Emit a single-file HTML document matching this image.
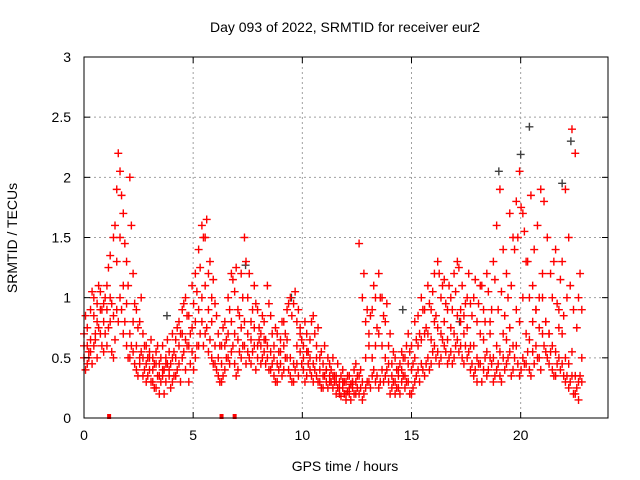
<!DOCTYPE html>
<html><head><meta charset="utf-8"><style>
html,body{margin:0;padding:0;background:#fff;}
svg{display:block;font-family:"Liberation Sans",sans-serif;}
</style></head><body>
<svg id="chart" width="640" height="480" viewBox="0 0 640 480"></svg>
<script>
const xTicks=[0,5,10,15,20];
const yTicks=[0,0.5,1,1.5,2,2.5,3];
const yTickLabels=["0","0.5","1","1.5","2","2.5","3"];
const times=[0,0.15,0.3,0.45,0.6,0.75,0.9,1.05,1.2,1.35,1.5,1.65,1.8,1.95,2.1,2.25,2.4,2.55,2.7,2.85,3.0,3.15,3.3,3.45,3.6,3.75,3.9,4.05,4.2,4.35,4.5,4.65,4.8,4.95,5.1,5.25,5.4,5.55,5.7,5.85,6.0,6.15,6.3,6.45,6.6,6.75,6.9,7.05,7.2,7.35,7.5,7.65,7.8,7.95,8.1,8.25,8.4,8.55,8.7,8.85,9.0,9.15,9.3,9.45,9.6,9.75,9.9,10.05,10.2,10.35,10.5,10.65,10.8,10.95,11.1,11.25,11.4,11.55,11.7,11.85,12.0,12.15,12.3,12.45,12.6,12.75,12.9,13.05,13.2,13.35,13.5,13.65,13.8,13.95,14.1,14.25,14.4,14.55,14.7,14.85,15.0,15.15,15.3,15.45,15.6,15.75,15.9,16.05,16.2,16.35,16.5,16.65,16.8,16.95,17.1,17.25,17.4,17.55,17.7,17.85,18.0,18.15,18.3,18.45,18.6,18.75,18.9,19.05,19.2,19.35,19.5,19.65,19.8,19.95,20.1,20.25,20.4,20.55,20.7,20.85,21.0,21.15,21.3,21.45,21.6,21.75,21.9,22.05,22.2,22.35,22.5,22.65,22.8];
const times2=[0.07,0.22,0.37,0.52,0.67,0.82,0.97,1.12,1.27,1.42,1.57,1.72,1.87,2.02,2.17,2.32,2.47,2.62,2.77,2.92,3.07,3.22,3.37,3.52,3.67,3.82,3.97,4.12,4.27,4.42,4.57,4.72,4.87,5.02,5.17,5.32,5.47,5.62,5.77,5.92,6.07,6.22,6.37,6.52,6.67,6.82,6.97,7.12,7.27,7.42,7.57,7.72,7.87,8.02,8.17,8.32,8.47,8.62,8.77,8.92,9.07,9.22,9.37,9.52,9.67,9.82,9.97,10.12,10.27,10.42,10.57,10.72,10.87,11.02,11.17,11.32,11.47,11.62,11.77,11.92,12.07,12.22,12.37,12.52,12.67,12.82,12.97,13.12,13.27,13.42,13.57,13.72,13.87,14.02,14.17,14.32,14.47,14.62,14.77,14.92,15.07,15.22,15.37,15.52,15.67,15.82,15.97,16.12,16.27,16.42,16.57,16.72,16.87,17.02,17.17,17.32,17.47,17.62,17.77,17.92,18.07,18.22,18.37,18.52,18.67,18.82,18.97,19.12,19.27,19.42,19.57,19.72,19.87,20.02,20.17,20.32,20.47,20.62,20.77,20.92,21.07,21.22,21.37,21.52,21.67,21.82,21.97,22.12,22.27,22.42,22.57,22.72];
const tecHigh=[0.7,0.6,0.9,1.0,0.8,1.05,0.95, 1.1,1.35,1.5,1.9,2.05,1.7,1.3, 2.0,1.2,0.9,0.8,0.7,0.6,0.55, 0.5,0.55,0.45,0.6,0.5,0.55,0.7, 0.65,0.8,0.9,1.0,0.85,1.1,1.2, 1.4,1.6,1.5,1.2,1.0,0.95,0.7, 0.6,0.8,1.0,1.2,1.05,0.9,1.2, 1.5,1.0,0.8,1.1,0.9,0.7,0.8, 1.1,0.85,0.6,0.7,0.65,0.8,0.9, 1.0,0.95,0.8,0.75,0.6,0.7,0.65, 0.85,0.6,0.5,0.45,0.4,0.45,0.5, 0.35,0.3,0.4,0.3,0.35,0.3,0.45, 1.45,1.0,0.8,0.7,0.9,1.0,1.2, 1.0,0.8,0.6,0.45,0.5,0.4,0.55, 0.5,0.7,0.6,0.8,0.85,1.0,0.9, 1.1,0.9,1.2,1.3,1.0,1.15,0.9, 1.0,1.2,1.3,0.9,0.85,1.0,0.95, 1.0,0.8,1.1,0.9,1.2,0.8,1.3, 1.6,1.9,1.4,1.2,1.7,1.5,1.8, 2.05,1.7,1.3,1.0,1.1,0.9,1.0, 1.2,0.8,0.7,1.0,1.4,0.9,1.3, 1.9,1.5,2.4,2.2,1.0,0.9];
const tecLow=[0.5,0.45,0.55,0.6,0.5,0.7,0.55, 0.6,0.8,0.5,0.9,1.0,0.7,0.6, 0.5,0.55,0.4,0.45,0.35,0.3,0.4, 0.3,0.25,0.2,0.35,0.3,0.4,0.3, 0.35,0.45,0.5,0.4,0.3,0.55,0.5, 0.6,0.8,0.7,0.55,0.5,0.45,0.35, 0.3,0.4,0.5,0.55,0.45,0.4,0.5, 0.6,0.55,0.45,0.6,0.5,0.45,0.55, 0.5,0.4,0.35,0.3,0.45,0.4,0.5, 0.35,0.3,0.45,0.55,0.4,0.35,0.4, 0.3,0.35,0.3,0.25,0.3,0.35,0.25, 0.2,0.2,0.25,0.15,0.2,0.25,0.2, 0.2,0.15,0.25,0.3,0.35,0.3,0.25, 0.4,0.35,0.3,0.25,0.2,0.25,0.3, 0.25,0.3,0.2,0.3,0.4,0.45,0.35, 0.5,0.45,0.6,0.55,0.5,0.6,0.45, 0.55,0.5,0.65,0.6,0.45,0.5,0.4, 0.35,0.3,0.45,0.4,0.35,0.5,0.3, 0.4,0.35,0.5,0.45,0.55,0.4,0.6, 0.35,0.5,0.45,0.4,0.55,0.6,0.5, 0.7,0.55,0.45,0.4,0.35,0.5,0.45, 0.3,0.25,0.35,0.2,0.15,0.3,0.4, 0.35,0.3,0.45,0.4,0.3,0.35];
const tecMid=[0.6,0.75,0.65,0.85,0.95,0.9,0.8, 0.9,1.0,0.85,1.3,1.5,1.1,0.95, 0.7,0.8,0.6,0.5,0.5,0.45,0.5, 0.4,0.45,0.35,0.4,0.45,0.35,0.5, 0.5,0.6,0.7,0.65,0.6,0.75,0.8, 0.9,1.0,1.1,0.9,0.8,0.6,0.5, 0.45,0.6,0.7,0.8,0.7,0.65,0.75, 0.8,0.7,0.65,0.75,0.6,0.6,0.65, 0.6,0.55,0.5,0.45,0.55,0.6,0.65, 0.5,0.45,0.6,0.7,0.5,0.55,0.5, 0.45,0.5,0.4,0.35,0.4,0.3,0.35, 0.3,0.25,0.3,0.2,0.25,0.3,0.3, 0.35,0.3,0.5,0.6,0.5,0.6,0.7, 0.6,0.5,0.45,0.35,0.3,0.35,0.4, 0.35,0.45,0.4,0.5,0.6,0.65,0.7, 0.7,0.65,0.8,0.75,0.7,0.8,0.65, 0.75,0.7,0.85,0.8,0.7,0.75,0.6, 0.6,0.5,0.7,0.65,0.55,0.7,0.5, 0.6,0.55,0.7,0.65,0.75,0.6,0.9, 0.8,1.0,0.7,0.65,0.8,0.9,0.75, 1.0,0.8,0.7,0.6,0.55,0.75,0.7, 0.5,0.45,0.55,0.35,0.3,0.5,0.6, 0.6,0.5,0.9,0.7,0.5,0.55];
const tecHigh2=[0.85,0.5,1.05,0.7,1.1,0.9,1.0, 1.25,0.95,1.6,2.2,1.85,1.45,1.1, 1.6,0.95,0.75,1.0,0.6,0.5,0.65, 0.45,0.6,0.5,0.4,0.65,0.45,0.55, 0.75,0.7,0.95,0.85,0.7,0.95,1.05, 1.25,1.5,1.65,1.3,1.15,0.85,0.6, 0.75,0.65,0.9,1.15,1.25,0.85,1.0, 1.3,1.2,0.9,0.95,0.75,0.85,0.65, 0.95,0.7,0.75,0.55,0.8,0.7,0.95, 0.85,1.05,0.9,0.65,0.8,0.55,0.8, 0.7,0.75,0.55,0.6,0.5,0.4,0.35, 0.45,0.35,0.3,0.35,0.28,0.4,0.35, 0.4,1.2,0.9,0.85,1.1,0.75,1.0, 0.85,0.95,0.7,0.55,0.4,0.45,0.5, 0.6,0.55,0.45,0.65,0.7,0.9,0.75, 0.95,1.05,0.85,1.2,1.1,0.95,1.1, 0.9,1.05,1.25,1.1,0.95,1.2,0.85, 1.15,0.95,1.1,0.8,1.05,0.9,1.15, 0.9,1.05,0.85,1.0,1.1,1.4,1.5, 1.75,1.55,1.3,1.85,1.4,1.6,1.9, 1.8,1.5,1.2,1.3,0.95,1.15,0.85, 1.0,1.1,0.9,0.75,1.2,1.5,1.1, 1.6,1.45,2.5,1.8,1.3,1.0];
const tecLow2=[0.4,0.55,0.45,0.65,0.75,0.6,0.7, 0.75,0.55,0.65,0.8,0.9,0.8,0.5, 0.6,0.45,0.35,0.55,0.4,0.35,0.3, 0.25,0.35,0.3,0.2,0.45,0.25,0.35, 0.4,0.3,0.55,0.6,0.45,0.4,0.6, 0.7,0.6,0.75,0.65,0.45,0.4,0.3, 0.35,0.5,0.45,0.6,0.35,0.55,0.6, 0.45,0.5,0.55,0.4,0.65,0.5,0.45, 0.4,0.45,0.3,0.4,0.35,0.5,0.4, 0.3,0.4,0.35,0.45,0.3,0.45,0.35, 0.4,0.3,0.25,0.35,0.25,0.3,0.3, 0.25,0.18,0.2,0.22,0.15,0.2,0.25, 0.25,0.2,0.3,0.25,0.4,0.35,0.3, 0.3,0.4,0.2,0.3,0.25,0.2,0.35, 0.3,0.2,0.25,0.35,0.3,0.4,0.45, 0.4,0.55,0.5,0.45,0.65,0.55,0.5, 0.45,0.6,0.55,0.5,0.6,0.55,0.45, 0.4,0.45,0.3,0.5,0.4,0.45,0.35, 0.45,0.3,0.4,0.5,0.35,0.5,0.45, 0.4,0.45,0.55,0.35,0.45,0.5,0.4, 0.6,0.5,0.55,0.35,0.45,0.4,0.35, 0.35,0.3,0.2,0.25,0.35,0.25,0.3, 0.3,0.4,0.35,0.3,0.45,0.3];
const grayTimes=[19.0,20.0,20.4,21.9,22.3,7.4,9.5,3.8,14.6,17.2];
const grayValues=[2.05,2.19,2.42,1.95,2.3,1.27,1.0,0.85,0.9,0.8];
const flagTimes=[1.15,6.3,6.9];

const L=84,R=608,T=57,B=418;
const xS=h=>L+h*(R-L)/24;
const yS=v=>B-v*(B-T)/3;
const svg=document.getElementById('chart');
const NS='http://www.w3.org/2000/svg';
function mk(tag,attrs,parent){const e=document.createElementNS(NS,tag);for(const k in attrs)e.setAttribute(k,attrs[k]);(parent||svg).appendChild(e);return e;}

const grid=mk('g',{});


xTicks.forEach(t=>{if(t>0){const l=mk('line',{x1:xS(t),x2:xS(t),y1:T,y2:B,stroke:'#a0a0a0','stroke-dasharray':'2,3'},grid);}});
yTicks.forEach(v=>{if(v>0&&v<3){const l=mk('line',{x1:L,x2:R,y1:yS(v),y2:yS(v),stroke:'#a0a0a0','stroke-dasharray':'2,3'},grid);}});

function cross(g,x,y,color,name){const p=mk('path',{d:`M${x-4},${y}h8M${x},${y-4}v8`,stroke:color,'stroke-width':1.4,fill:'none'},g);}
const gg=mk('g',{});


grayTimes.forEach((t,i)=>cross(gg,xS(t),yS(grayValues[i]),'#404040','gray-point'));
const rg=mk('g',{});


[[times,tecHigh],[times,tecLow],[times,tecMid],[times2,tecHigh2],[times2,tecLow2]].forEach(([ts,arr])=>{const n=Math.min(ts.length,arr.length);for(let i=0;i<n;i++)cross(rg,xS(ts[i]),yS(arr[i]),'#ff0000','srmtid-point');});
flagTimes.forEach(t=>{const r=mk('rect',{x:xS(t)-2,y:B-4,width:4,height:5,fill:'#ff0000'});});

const frame=mk('rect',{x:L,y:T,width:R-L,height:B-T,fill:'none',stroke:'#000','stroke-width':1});


xTicks.forEach(t=>{const x=xS(t);mk('line',{x1:x,x2:x,y1:B,y2:B-6,stroke:'#000'});mk('line',{x1:x,x2:x,y1:T,y2:T+6,stroke:'#000'});const tx=mk('text',{x:x,y:B+22,'text-anchor':'middle','font-size':14});tx.textContent=t;});
yTicks.forEach((v,i)=>{const y=yS(v);mk('line',{x1:L,x2:L+6,y1:y,y2:y,stroke:'#000'});mk('line',{x1:R,x2:R-6,y1:y,y2:y,stroke:'#000'});const tx=mk('text',{x:L-13,y:y+5,'text-anchor':'end','font-size':14});tx.textContent=yTickLabels[i];});
const title=mk('text',{x:345,y:32,'text-anchor':'middle','font-size':14});
title.textContent='Day 093 of 2022, SRMTID for receiver eur2';


const xl=mk('text',{x:345,y:471,'text-anchor':'middle','font-size':14});
xl.textContent='GPS time / hours';


const yl=mk('text',{x:0,y:0,'text-anchor':'middle','font-size':14,transform:'translate(17,238) rotate(-90)'});
yl.textContent='SRMTID / TECUs';


</script>
</body></html>
